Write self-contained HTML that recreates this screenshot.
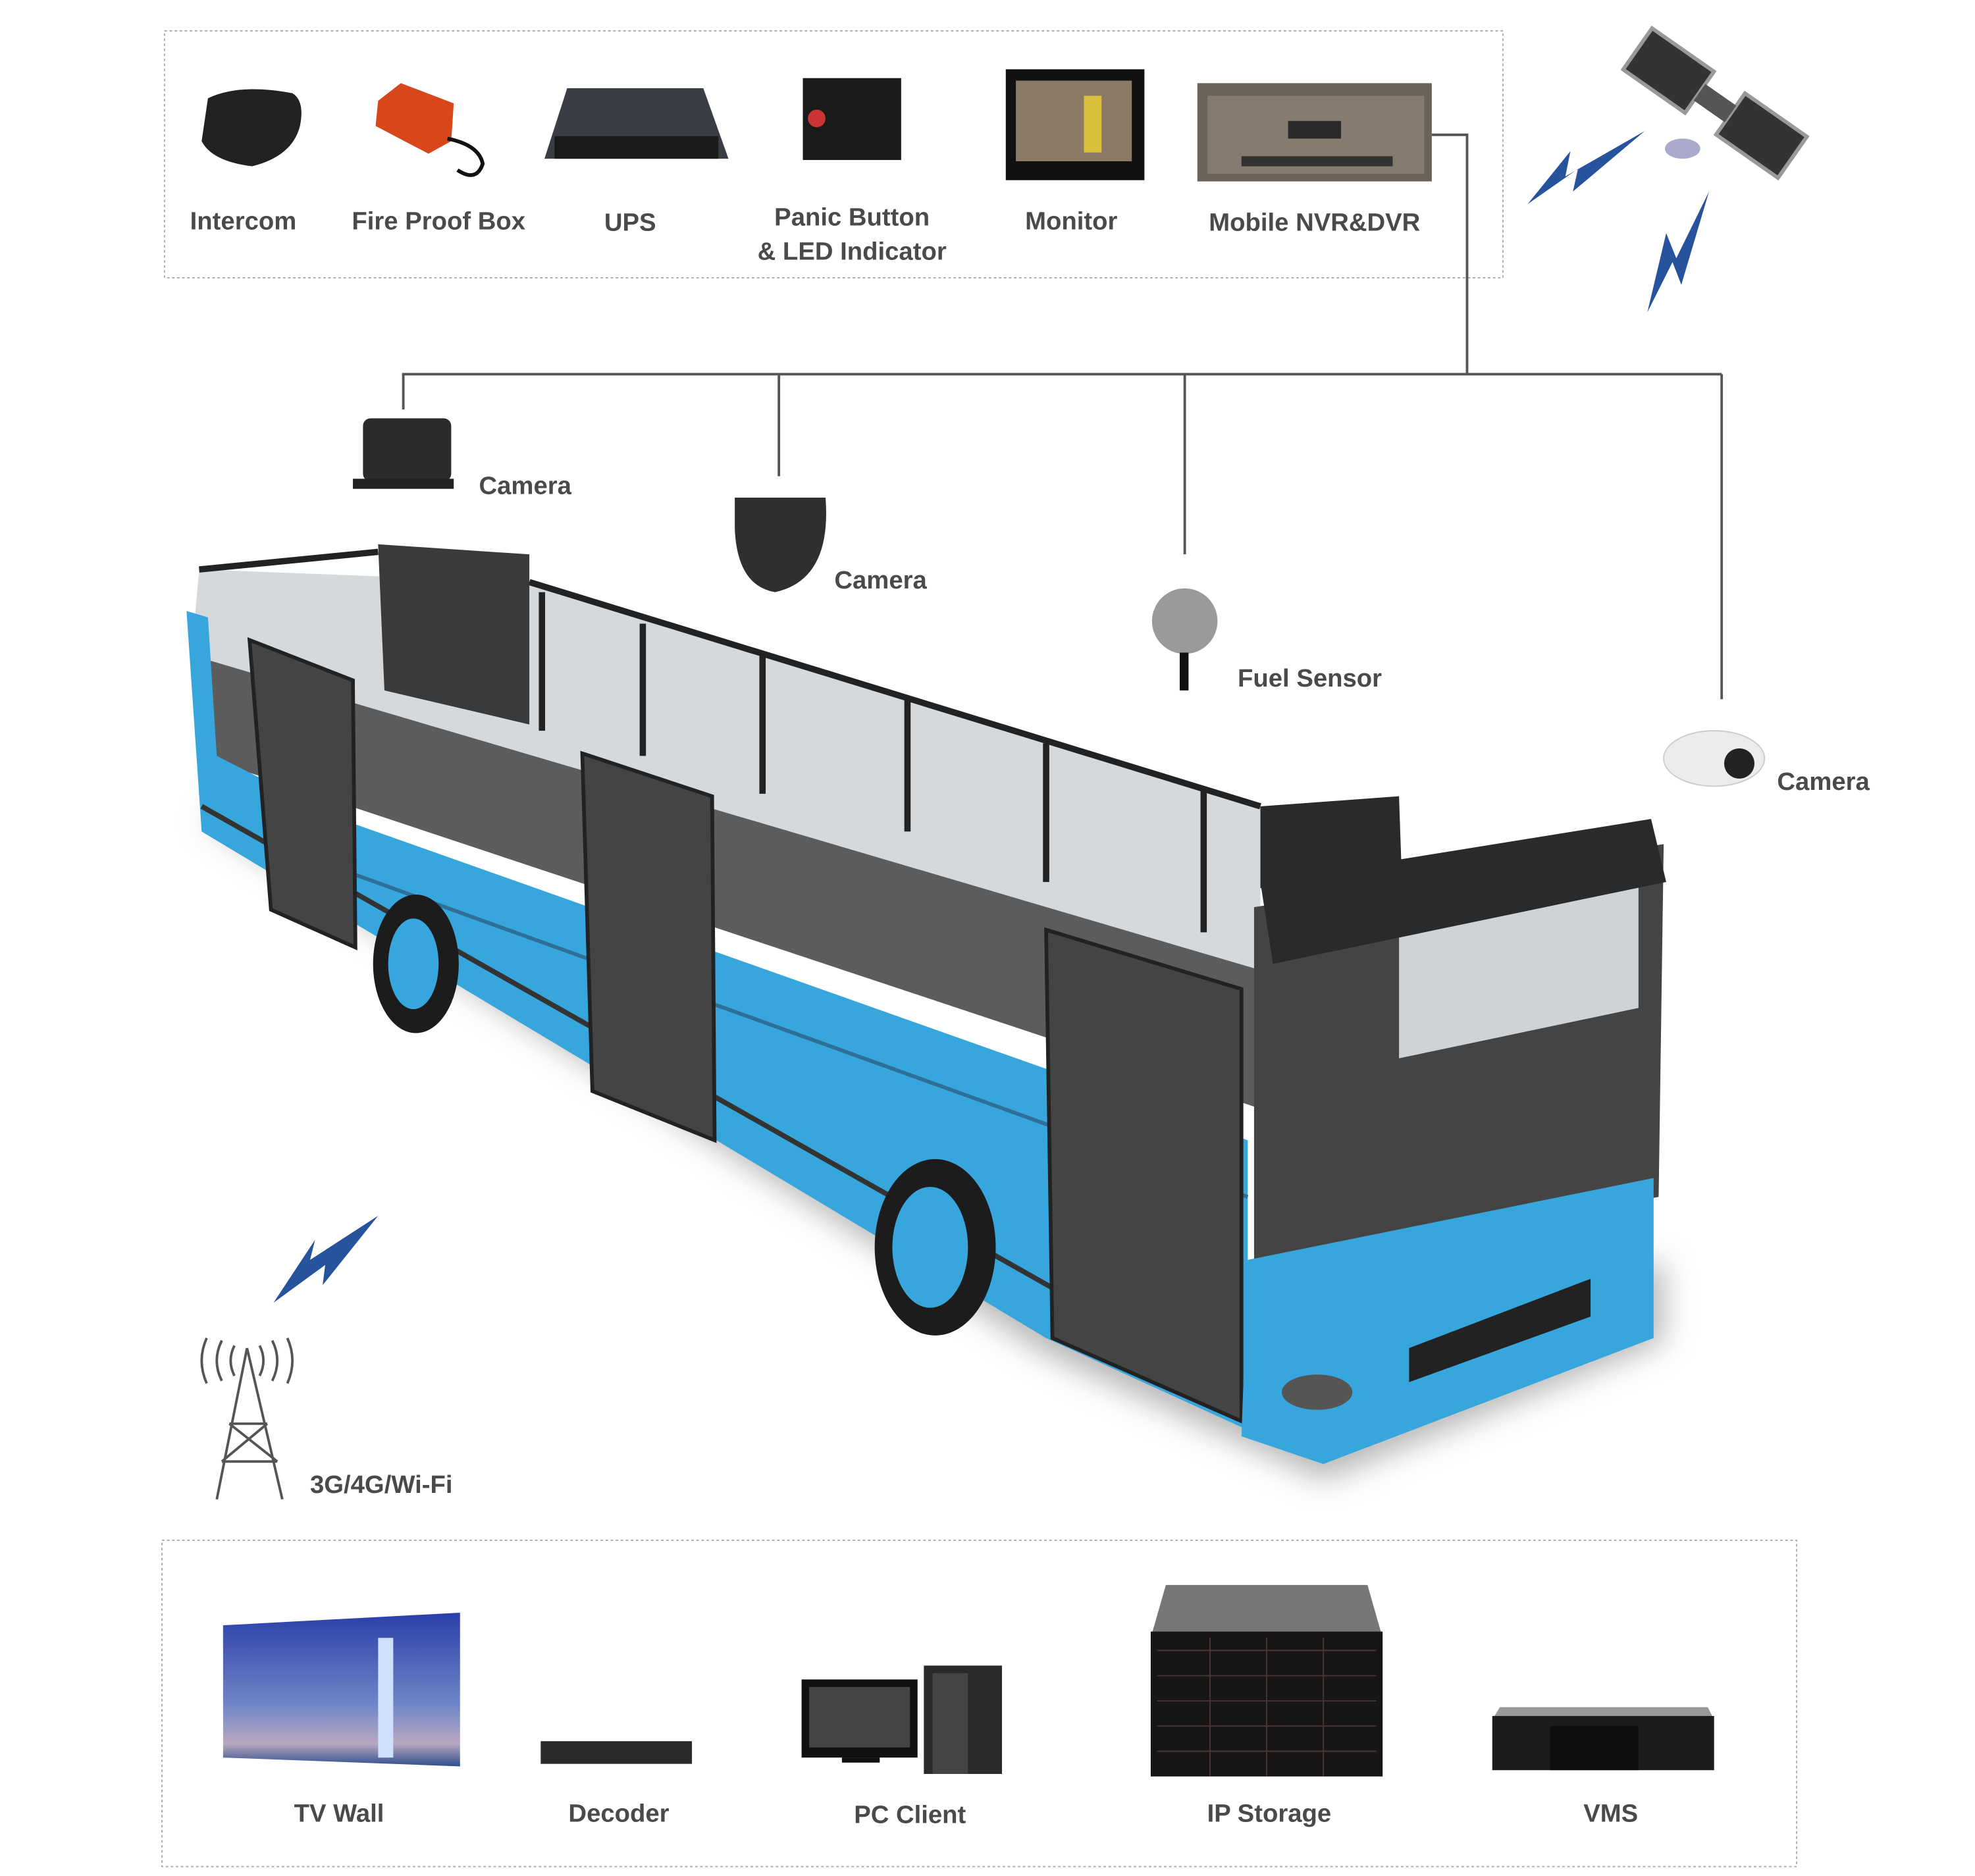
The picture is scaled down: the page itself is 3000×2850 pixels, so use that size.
<!DOCTYPE html>
<html><head><meta charset="utf-8"><style>
html,body{margin:0;padding:0;background:#fff;}
svg{display:block;}
text{font-family:"Liberation Sans",sans-serif;fill:#4a4a4a;font-weight:bold;}
</style></head><body>
<svg width="3000" height="2850" viewBox="0 0 1567 1489" preserveAspectRatio="none" xmlns="http://www.w3.org/2000/svg">
<defs>
<filter id="bl"><feGaussianBlur stdDeviation="12"/></filter>
<linearGradient id="sky" x1="0" y1="0" x2="0" y2="1"><stop offset="0" stop-color="#2a3fa8"/><stop offset="0.6" stop-color="#6f86c8"/><stop offset="0.85" stop-color="#b9a8c0"/><stop offset="1" stop-color="#2f4d8c"/></linearGradient>
</defs>
<rect x="130.5" y="24.5" width="1062" height="196" fill="none" stroke="#aaa" stroke-width="1" stroke-dasharray="2,2"/>
<path d="M165,78 Q190,66 232,74 Q242,80 238,100 Q232,124 200,132 Q168,128 160,112 Z" fill="#222"/>
<path d="M300,80 L318,66 L360,82 L358,112 L340,122 L298,100 Z" fill="#d8461c"/>
<path d="M355,110 q25,5 28,20 q-5,15 -20,5" fill="none" stroke="#111" stroke-width="3"/>
<path d="M450,70 L558,70 L578,126 L432,126 Z" fill="#3a3d44"/><rect x="440" y="108" width="130" height="18" fill="#1b1b1b"/>
<rect x="637" y="62" width="78" height="65" fill="#1a1a1a"/><circle cx="648" cy="94" r="7" fill="#c33"/>
<rect x="798" y="55" width="110" height="88" fill="#111"/><rect x="806" y="64" width="92" height="64" fill="#8a7a66"/><rect x="860" y="76" width="14" height="45" fill="#d8c03a"/>
<rect x="950" y="66" width="186" height="78" fill="#6b6358"/><rect x="958" y="76" width="172" height="62" fill="#857b6f"/><rect x="985" y="124" width="120" height="8" fill="#333"/><rect x="1022" y="96" width="42" height="14" fill="#2a2a2a"/>
<text x="193" y="182" font-size="20" text-anchor="middle">Intercom</text>
<text x="348" y="182" font-size="20" text-anchor="middle">Fire Proof Box</text>
<text x="500" y="183" font-size="20" text-anchor="middle">UPS</text>
<text x="676" y="179" font-size="20" text-anchor="middle">Panic Button</text>
<text x="676" y="206" font-size="20" text-anchor="middle">&amp; LED Indicator</text>
<text x="850" y="182" font-size="20" text-anchor="middle">Monitor</text>
<text x="1043" y="183" font-size="20" text-anchor="middle">Mobile NVR&amp;DVR</text>
<g transform="rotate(35 1355 90)">
<rect x="1280" y="60" width="60" height="40" fill="#333" stroke="#999" stroke-width="3"/>
<rect x="1370" y="60" width="60" height="40" fill="#333" stroke="#999" stroke-width="3"/>
<rect x="1340" y="72" width="30" height="16" fill="#555"/>
</g>
<ellipse cx="1335" cy="118" rx="14" ry="8" fill="#aac" />
<path d="M1305,104 L1242,140 L1246,120 L1212,162 L1252,134 L1248,152 Z" fill="#27529c"/>
<path d="M1356,152 L1330,205 L1322,185 L1307,248 L1327,208 L1334,226 Z" fill="#27529c"/>
<path d="M300,965 L246,1000 L250,984 L217,1034 L258,1004 L256,1020 Z" fill="#27529c"/>
<g stroke="#555" stroke-width="2" fill="none">
<path d="M1136,107 H1164 V297"/>
<path d="M319,297 H1366"/>
<path d="M320,297 V325 M618,297 V378 M940,297 V440 M1366,297 V555"/>
</g>
<rect x="288" y="332" width="70" height="50" rx="6" fill="#2b2b2b"/><rect x="280" y="380" width="80" height="8" fill="#222"/>
<path d="M583,395 L655,395 Q660,460 615,470 Q585,465 583,420 Z" fill="#2f2f2f"/>
<circle cx="940" cy="493" r="26" fill="#9a9a9a"/><rect x="936" y="518" width="7" height="30" fill="#111"/>
<ellipse cx="1360" cy="602" rx="40" ry="22" fill="#ececec" stroke="#ccc"/><circle cx="1380" cy="606" r="12" fill="#222"/>
<text x="380" y="392" font-size="20">Camera</text>
<text x="662" y="467" font-size="20">Camera</text>
<text x="982" y="545" font-size="20">Fuel Sensor</text>
<text x="1410" y="627" font-size="20">Camera</text>
<path d="M160,650 L830,1075 L1050,1175 L1320,1065 L1320,1000 L1000,1100 L200,640 Z" fill="#999" filter="url(#bl)" opacity="0.7"/>
<path d="M158,452 L420,462 L1000,640 L1000,770 L152,520 Z" fill="#d6d9db"/>
<path d="M152,520 L1000,770 L1000,880 L158,600 Z" fill="#5c5c5c"/>
<g stroke="#222" stroke-width="5" fill="none">
<path d="M158,452 L300,438 M420,462 L1000,640"/>
<path d="M430,470 V580 M510,495 V600 M605,520 V630 M720,555 V660 M830,590 V700 M955,625 V740"/>
</g>
<path d="M300,432 L420,440 L420,575 L305,548 Z" fill="#3a3a3a"/>
<path d="M148,485 L165,490 L172,600 L270,650 L990,905 L990,1135 L830,1062 L160,660 Z" fill="#37a6dd"/>
<path d="M160,640 L990,1110" stroke="#333" stroke-width="4"/>
<path d="M270,690 L990,950" stroke="#2d6f96" stroke-width="3"/>
<path d="M198,508 L280,540 L282,752 L215,722 Z" fill="#444" stroke="#222" stroke-width="3"/>
<path d="M462,598 L565,632 L567,905 L470,866 Z" fill="#444" stroke="#222" stroke-width="3"/>
<path d="M830,738 L985,785 L985,1128 L835,1062 Z" fill="#444" stroke="#222" stroke-width="3"/>
<ellipse cx="330" cy="765" rx="34" ry="55" fill="#1c1c1c"/><ellipse cx="328" cy="765" rx="20" ry="36" fill="#37a6dd"/>
<ellipse cx="742" cy="990" rx="48" ry="70" fill="#1c1c1c"/><ellipse cx="738" cy="990" rx="30" ry="48" fill="#37a6dd"/>
<path d="M995,720 L1320,670 L1316,950 L995,1010 Z" fill="#444"/>
<path d="M1110,730 L1300,695 L1300,800 L1110,840 Z" fill="#cfd3d6"/>
<path d="M1000,700 L1310,650 L1322,700 L1010,765 Z" fill="#2a2a2a"/>
<path d="M1000,640 L1110,632 L1112,690 L1000,705 Z" fill="#2a2a2a"/>
<path d="M990,1000 L1312,935 L1312,1062 L1050,1162 L985,1140 Z" fill="#37a6dd"/>
<path d="M1118,1070 L1262,1015 L1262,1045 L1118,1097 Z" fill="#222"/>
<ellipse cx="1045" cy="1105" rx="28" ry="14" fill="#555"/>
<g stroke="#555" stroke-width="2" fill="none">
<path d="M196,1070 L172,1190 M196,1070 L224,1190 M182,1130 L212,1130 M176,1160 L220,1160 M182,1130 L220,1160 M212,1130 L176,1160"/>
<path d="M186,1068 q-6,12 0,24 M206,1068 q6,12 0,24 M176,1064 q-8,16 0,32 M216,1064 q8,16 0,32 M164,1062 q-8,18 0,36 M228,1062 q8,18 0,36"/>
</g>
<text x="246" y="1185" font-size="20">3G/4G/Wi-Fi</text>
<rect x="128.5" y="1222.5" width="1297" height="259" fill="none" stroke="#aaa" stroke-width="1" stroke-dasharray="2,2"/>
<path d="M177,1290 L365,1280 L365,1402 L177,1395 Z" fill="url(#sky)"/>
<rect x="300" y="1300" width="12" height="95" fill="#cfe0ff"/>
<rect x="429" y="1382" width="120" height="18" fill="#2a2a2a"/>
<rect x="636" y="1333" width="92" height="62" fill="#111"/><rect x="642" y="1339" width="80" height="48" fill="#444"/><rect x="668" y="1395" width="30" height="4" fill="#111"/>
<rect x="733" y="1322" width="62" height="86" fill="#2a2a2a"/><rect x="740" y="1328" width="28" height="80" fill="#444"/>
<path d="M925,1258 L1085,1258 L1097,1300 L913,1300 Z" fill="#777"/>
<rect x="913" y="1295" width="184" height="115" fill="#161616"/>
<g stroke="#4a3535" stroke-width="1"><path d="M918,1310 H1092 M918,1330 H1092 M918,1350 H1092 M918,1370 H1092 M918,1390 H1092 M960,1300 V1410 M1005,1300 V1410 M1050,1300 V1410"/></g>
<path d="M1190,1355 L1355,1355 L1360,1365 L1184,1365 Z" fill="#999"/>
<rect x="1184" y="1362" width="176" height="43" fill="#1b1b1b"/><rect x="1230" y="1370" width="70" height="35" fill="#0e0e0e"/>
<text x="269" y="1446" font-size="20" text-anchor="middle">TV Wall</text>
<text x="491" y="1446" font-size="20" text-anchor="middle">Decoder</text>
<text x="722" y="1447" font-size="20" text-anchor="middle">PC Client</text>
<text x="1007" y="1446" font-size="20" text-anchor="middle">IP Storage</text>
<text x="1278" y="1446" font-size="20" text-anchor="middle">VMS</text>
</svg>
</body></html>
